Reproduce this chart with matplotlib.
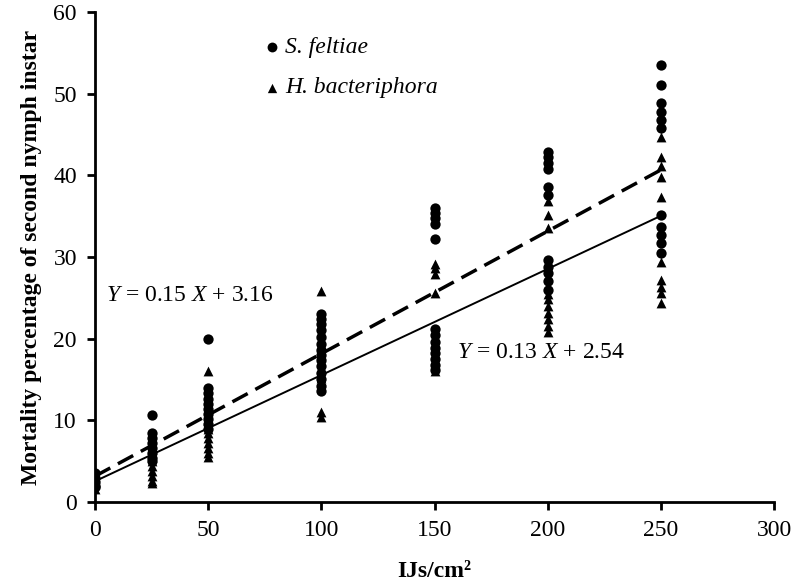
import numpy as np
import matplotlib.pyplot as plt

plt.rcParams['font.family'] = ['Liberation Serif', 'DejaVu Serif']
plt.rcParams['mathtext.fontset'] = 'custom'
plt.rcParams['mathtext.it'] = 'Liberation Serif:italic'
plt.rcParams['mathtext.rm'] = 'Liberation Serif'

# S. feltiae (circles), mortality % per dose
sf_dose = [0]*5 + [25]*8 + [50]*10 + [100]*14 + [150]*13 + [200]*11 + [250]*11
sf_mort = [3.5, 3.0, 2.5, 2.0, 1.8,
           10.6, 8.4, 7.8, 7.2, 6.6, 6.0, 5.4, 5.0,
           20.0, 14.0, 13.4, 12.6, 12.0, 11.4, 10.8, 10.2, 9.6, 9.0,
           23.0, 22.4, 21.8, 21.0, 20.2, 19.4, 18.6, 18.0, 17.4, 16.6, 15.8, 15.0, 14.2, 13.6,
           36.0, 35.4, 34.8, 34.1, 32.2, 21.2, 20.4, 19.6, 18.8, 18.2, 17.5, 16.8, 16.2,
           42.8, 42.2, 41.5, 40.8, 38.6, 37.6, 29.6, 28.8, 28.0, 27.0, 26.0,
           53.5, 51.0, 48.8, 47.7, 46.8, 45.8, 35.1, 33.7, 32.7, 31.7, 30.5]

# H. bacteriophora (triangles)
hb_dose = [0]*4 + [25]*9 + [50]*10 + [100]*8 + [150]*6 + [200]*10 + [250]*10
hb_mort = [3.2, 2.8, 2.2, 1.6,
           6.5, 6.0, 5.5, 5.0, 4.4, 3.8, 3.2, 2.6, 2.3,
           16.0, 11.0, 10.0, 9.0, 8.4, 7.8, 7.2, 6.6, 6.0, 5.5,
           25.8, 20.6, 19.0, 17.8, 16.4, 15.2, 11.0, 10.4,
           29.2, 28.6, 27.9, 25.6, 17.0, 16.0,
           36.8, 35.2, 33.6, 25.5, 24.8, 24.0, 23.2, 22.4, 21.6, 20.8,
           44.7, 42.2, 41.2, 39.8, 37.3, 29.4, 27.2, 26.3, 25.6, 24.4]

# regression lines (slope, intercept)
fit_dashed = (0.15, 3.16)
fit_solid = (0.13, 2.54)

fig = plt.figure(figsize=(7.95, 5.84), dpi=100)
ax = fig.add_axes([0.1195, 0.1404, 0.8541, 0.8391])

ax.scatter(sf_dose, sf_mort, marker='o', s=55, color='black', linewidths=0, zorder=3)
ax.scatter(hb_dose, hb_mort, marker='^', s=50, color='black', linewidths=0, zorder=3)

xl = np.array([0, 250])
ax.plot(xl, fit_dashed[0]*xl + fit_dashed[1], color='black', lw=2.5, ls=(0, (5, 2.5)), zorder=2)
ax.plot(xl, fit_solid[0]*xl + fit_solid[1], color='black', lw=1.4, zorder=2)

ax.text(5, 25.3, r'$Y$ = 0.15 $X$ + 3.16', fontsize=17, va='center')
ax.text(160, 18.3, r'$Y$ = 0.13 $X$ + 2.54', fontsize=17, va='center')

# legend drawn by hand like the original
ax.scatter([78], [55.7], marker='o', s=50, color='black', linewidths=0)
ax.scatter([78], [50.7], marker='^', s=45, color='black', linewidths=0)
ax.text(84, 55.7, 'S. feltiae', fontsize=17, style='italic', va='center')
ax.text(84, 50.7, 'H. bacteriphora', fontsize=17, style='italic', va='center')

ax.set_xlim(0, 300)
ax.set_ylim(0, 60)
ax.set_xticks(range(0, 301, 50))
ax.set_yticks(range(0, 61, 10))
for s in ['top', 'right']:
    ax.spines[s].set_visible(False)
for s in ['left', 'bottom']:
    ax.spines[s].set_linewidth(2)
ax.tick_params(axis='both', direction='out', length=6, width=2, labelsize=17, pad=7)
ax.set_clip_on(False)

ax.set_xlabel('IJs/cm²', fontsize=17, fontweight='bold', labelpad=14)
ax.set_ylabel('Mortality percentage of second nymph instar', fontsize=17, fontweight='bold', labelpad=8)

fig.savefig('out.png', dpi=100)
